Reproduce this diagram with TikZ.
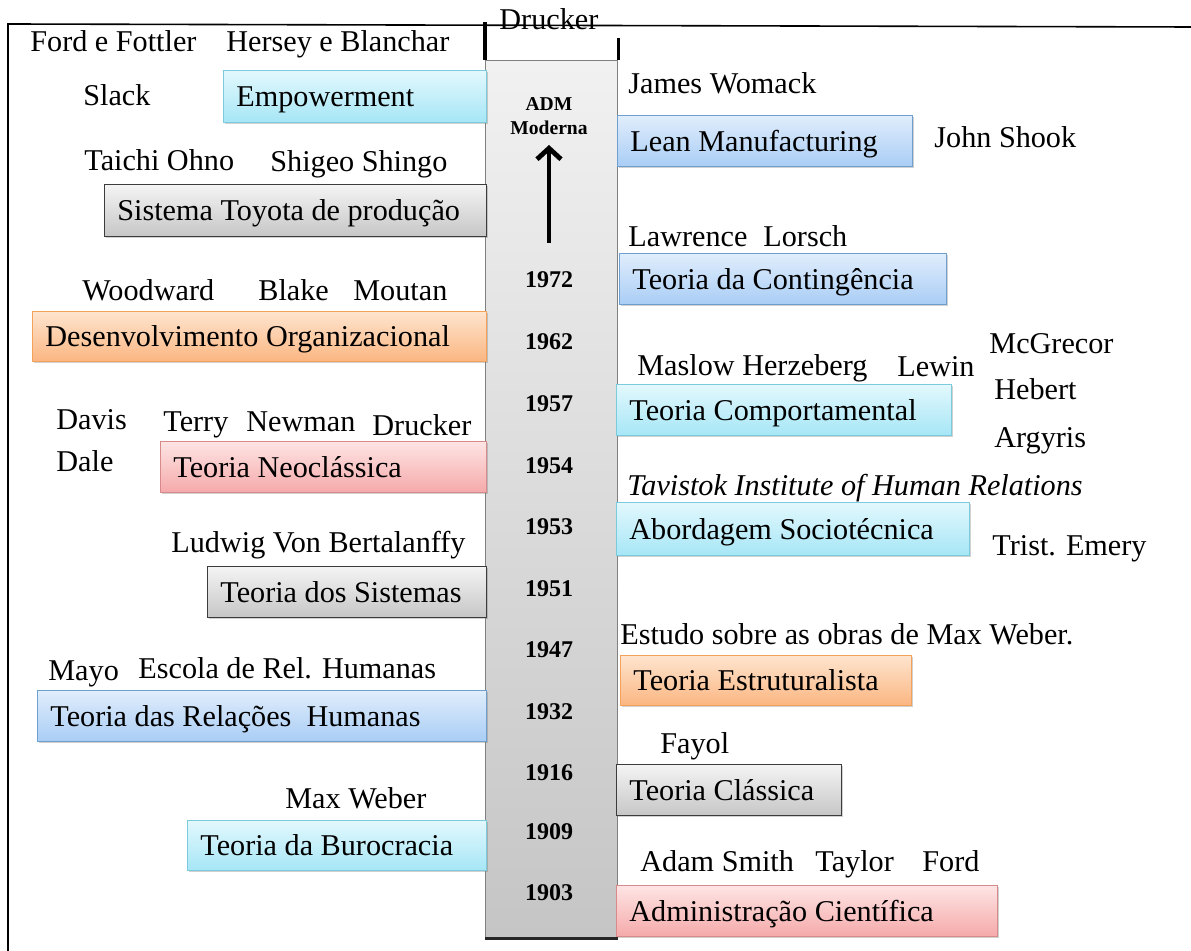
\documentclass[tikz,border=0pt]{standalone}
\usepackage{fontspec}
\setmainfont{Liberation Serif}
\usetikzlibrary{arrows.meta,shadows}

% box fills: top / bottom / border
\definecolor{cyanT}{HTML}{E2F8FD}
\definecolor{cyanD}{HTML}{A6E6F6}
\definecolor{cyanB}{HTML}{7CCBDC}
\definecolor{blueT}{HTML}{E0EDFC}
\definecolor{blueD}{HTML}{A9CDF5}
\definecolor{blueB}{HTML}{6F9FCF}
\definecolor{grayT}{HTML}{F4F4F4}
\definecolor{grayD}{HTML}{C6C6C6}
\definecolor{grayB}{HTML}{3C3C3C}
\definecolor{orT}{HTML}{FEE4CE}
\definecolor{orD}{HTML}{FBB681}
\definecolor{orB}{HTML}{F4A25A}
\definecolor{redT}{HTML}{FEE4E4}
\definecolor{redD}{HTML}{F5A9A9}
\definecolor{redB}{HTML}{D88A8A}
\definecolor{colT}{HTML}{F1F1F1}
\definecolor{colD}{HTML}{C5C5C5}

% a gradient box with its caption set left-aligned inside it
\newcommand\tlbox[7]{%
  \node[#6, minimum width={(#4-#2)*0.5pt}, minimum height={(#5-#3)*0.5pt}] (#1) at (#2,#3) {};
  \node[lbl, yshift=-5pt] (#1-t) at ([xshift=6.5pt]#1.west) {#7};
}

\begin{document}
\begin{tikzpicture}[x=0.5pt, y=-0.5pt,
  lbl/.style={inner sep=0pt, anchor=base west, font=\fontsize{15.1}{17}\selectfont},
  yr/.style={inner sep=0pt, anchor=base, font=\fontsize{12}{14}\selectfont\bfseries},
  adm/.style={inner sep=0pt, anchor=base, font=\fontsize{9.8}{11}\selectfont\bfseries},
  tb/.style={inner sep=0pt, anchor=north west, line width=0.7pt,
    drop shadow={shadow xshift=0.7pt, shadow yshift=-0.7pt, opacity=0.3, fill=black!60}},
  cyanbox/.style={tb, draw=cyanB, top color=cyanT, bottom color=cyanD},
  bluebox/.style={tb, draw=blueB, top color=blueT, bottom color=blueD},
  graybox/.style={tb, draw=grayB, top color=grayT, bottom color=grayD},
  orbox/.style={tb, draw=orB, top color=orT, bottom color=orD},
  redbox/.style={tb, draw=redB, top color=redT, bottom color=redD},
  colbox/.style={inner sep=0pt, anchor=north west, draw=black!50, line width=0.7pt,
    top color=colT, bottom color=colD},
  frame/.style={line width=0.8pt},
  tick/.style={line width=1.6pt}
]
\useasboundingbox (0,0) rectangle (1191,951);

% outer frame
\coordinate (fbl) at (8,951);
\coordinate (ftl) at (8,24);
\coordinate (ftr) at (1191,27);
\draw[frame] (fbl) -- (ftl) -- (ftr);

% central time column
\node[colbox, minimum width={132*0.5pt}, minimum height={877*0.5pt}] (col) at (485,60) {};
\draw[line width=1.3pt, black!85] (col.south west) -- (col.south east);
\draw[tick] (col.north west) -- ++(0,-38);
\draw[tick] (col.north east) -- ++(0,-22);
\node[lbl] (druckertop) at (499,30) {Drucker};

\node[adm] (adm1) at (549,111) {ADM};
\node[adm] (adm2) at (549,135) {Moderna};
\coordinate (arrlo) at (549,243);
\draw[line width=2.4pt, -{Straight Barb[length=5.5pt, width=12pt]}] (arrlo) -- (adm2.south |- 0,145);

\foreach \y/\t in {288/1972, 350/1962, 412/1957, 474/1954, 535/1953, 597/1951,
                   658/1947, 720/1932, 781/1916, 840/1909, 901/1903}
  \node[yr] (y\t) at (549,\y) {\t};

% left side boxes
\tlbox{emp}{223}{70}{486}{122}{cyanbox}{Empowerment}
\tlbox{toy}{104}{184}{486}{236}{graybox}{Sistema Toyota de produção}
\tlbox{dev}{32}{311}{486}{361}{orbox}{Desenvolvimento Organizacional}
\tlbox{neo}{160}{441}{486}{492}{redbox}{Teoria Neoclássica}
\tlbox{sis}{207}{566}{486}{617}{graybox}{Teoria dos Sistemas}
\tlbox{rel}{37}{690}{486}{741}{bluebox}{Teoria das Relações\hspace{0.25em} Humanas}
\tlbox{bur}{187}{820}{486}{870}{cyanbox}{Teoria da Burocracia}

% right side boxes
\tlbox{lean}{617}{115}{912}{166}{bluebox}{Lean Manufacturing}
\tlbox{cont}{619}{253}{946}{304}{bluebox}{Teoria da Contingência}
\tlbox{comp}{616}{384}{951}{435}{cyanbox}{Teoria Comportamental}
\tlbox{soc}{616}{502}{969}{555}{cyanbox}{Abordagem Sociotécnica}
\tlbox{est}{620}{655}{911}{705}{orbox}{Teoria Estruturalista}
\tlbox{cla}{616}{764}{841}{815}{graybox}{Teoria Clássica}
\tlbox{adm}{616}{885}{997}{936}{redbox}{Administração Científica}

% authors
\node[lbl] (n1) at (30,52) {Ford e Fottler};
\node[lbl] (n2) at (226,52) {Hersey e Blanchar};
\node[lbl] (n3) at (83,106) {Slack};
\node[lbl] (n4) at (628,94) {James Womack};
\node[lbl] (n5) at (934,148) {John Shook};
\node[lbl] (n6) at (84,171) {Taichi Ohno};
\node[lbl] (n7) at (270,172) {Shigeo Shingo};
\node[lbl] (n8) at (628,247) {Lawrence};
\node[lbl] (n9) at (763,247) {Lorsch};
\node[lbl] (n10) at (82,301) {Woodward};
\node[lbl] (n11) at (258,301) {Blake};
\node[lbl] (n12) at (353,301) {Moutan};
\node[lbl] (n13) at (989,354) {McGrecor};
\node[lbl] (n14) at (637,376) {Maslow Herzeberg};
\node[lbl] (n15) at (897,377) {Lewin};
\node[lbl] (n16) at (994,400) {Hebert};
\node[lbl] (n17) at (994,448) {Argyris};
\node[lbl] (n18) at (56,430) {Davis};
\node[lbl] (n19) at (163,432) {Terry};
\node[lbl] (n20) at (246,432) {Newman};
\node[lbl] (n21) at (372,436) {Drucker};
\node[lbl] (n22) at (56,472) {Dale};
\node[lbl, font=\fontsize{15.1}{17}\selectfont\itshape] (n23) at (627,496) {Tavistok Institute of Human Relations};
\node[lbl] (n24) at (992,556) {Trist. Emery};
\node[lbl] (n25) at (171,553) {Ludwig Von Bertalanffy};
\node[lbl] (n26) at (620,645) {Estudo sobre as obras de Max Weber.};
\node[lbl] (n27) at (48,681) {Mayo};
\node[lbl] (n28) at (138,679) {Escola de Rel. Humanas};
\node[lbl] (n29) at (660,754) {Fayol};
\node[lbl] (n30) at (285,809) {Max Weber};
\node[lbl] (n31) at (640,872) {Adam Smith};
\node[lbl] (n32) at (815,872) {Taylor};
\node[lbl] (n33) at (922,872) {Ford};
\end{tikzpicture}
\end{document}
